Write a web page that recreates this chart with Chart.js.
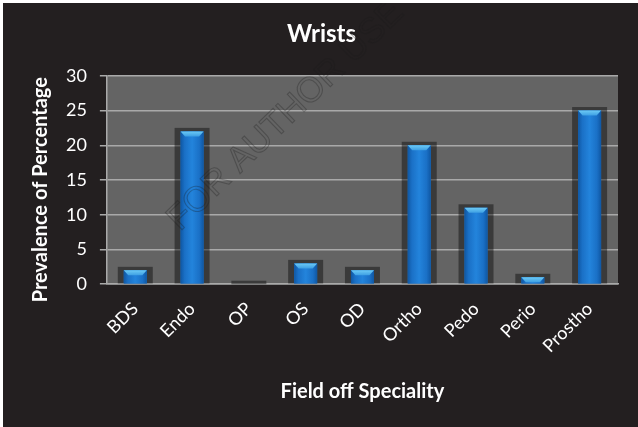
<!DOCTYPE html>
<html>
<head>
<meta charset="utf-8">
<script src="https://cdn.jsdelivr.net/npm/chart.js@4/dist/chart.umd.min.js"></script>
<style>
  html, body { margin: 0; padding: 0; background: #ffffff; }
  #wrap { position: absolute; left: 3px; top: 3px; width: 635px; height: 424px; }
</style>
</head>
<body>
<div id="wrap"><canvas id="c"></canvas></div>
<script>
// Field of speciality and prevalence (%) of wrist complaints
const categories = ['BDS', 'Endo', 'OP', 'OS', 'OD', 'Ortho', 'Pedo', 'Perio', 'Prostho'];
const prevalence = [2, 22, 0, 3, 2, 20, 11, 1, 25];
const yTicks = [0, 5, 10, 15, 20, 25, 30];

const BG = '#231f20';
const PLOT_BG = '#646464';
const GRID = '#a9a9a9';
const FONT = 'Lato, "Open Sans", sans-serif';

// Dark frame behind the chart and grey plot area
const backdrop = {
  id: 'backdrop',
  beforeDraw(chart) {
    const { ctx, chartArea: a } = chart;
    ctx.save();
    ctx.fillStyle = BG;
    ctx.fillRect(0, 0, chart.width, chart.height);
    ctx.fillStyle = PLOT_BG;
    ctx.fillRect(a.left, a.top, a.right - a.left, a.bottom - a.top);
    ctx.restore();
  }
};

// Soft dark box around each bar, plus glossy fill and bevelled top
const barStyle = {
  id: 'barStyle',
  beforeDatasetsDraw(chart) {
    const { ctx } = chart;
    const meta = chart.getDatasetMeta(0);
    ctx.save();
    ctx.fillStyle = 'rgba(0,0,0,0.42)';
    meta.data.forEach(el => {
      const { x, y, width, base } = el.getProps(['x', 'y', 'width', 'base'], true);
      ctx.fillRect(x - width / 2 - 6, y - 3.5, width + 12, base - y + 3.5);
    });
    ctx.restore();
  },
  afterDatasetsDraw(chart) {
    const { ctx } = chart;
    const meta = chart.getDatasetMeta(0);
    ctx.save();
    meta.data.forEach(el => {
      const { x, y, width, base } = el.getProps(['x', 'y', 'width', 'base'], true);
      const h = base - y;
      if (h < 0.5) return;
      const l = x - width / 2, r = x + width / 2;
      const g = ctx.createLinearGradient(l, 0, r, 0);
      g.addColorStop(0, '#0f57a3');
      g.addColorStop(0.18, '#1a70c6');
      g.addColorStop(0.5, '#2384dc');
      g.addColorStop(0.82, '#1a70c6');
      g.addColorStop(1, '#0f57a3');
      ctx.fillStyle = g;
      ctx.fillRect(l, y, width, h);
      const bh = Math.min(5, h);
      const bevel = ctx.createLinearGradient(0, y, 0, y + bh);
      bevel.addColorStop(0, '#6ccaf5');
      bevel.addColorStop(1, '#3d9fe3');
      ctx.fillStyle = bevel;
      ctx.beginPath();
      ctx.moveTo(l, y);
      ctx.lineTo(r, y);
      ctx.lineTo(r - bh * 0.9, y + bh);
      ctx.lineTo(l + bh * 0.9, y + bh);
      ctx.closePath();
      ctx.fill();
    });
    ctx.restore();
  }
};

// Faint diagonal watermark
const watermark = {
  id: 'watermark',
  afterDraw(chart) {
    const { ctx, chartArea: a } = chart;
    ctx.save();
    ctx.translate(a.left + 73, a.top + 156);
    ctx.rotate(-44 * Math.PI / 180);
    ctx.font = '35px "Liberation Sans", Arial, sans-serif';
    ctx.strokeStyle = 'rgba(25,25,25,0.3)';
    ctx.lineWidth = 1.1;
    ctx.strokeText('FOR AUTHOR USE ONLY', 0, 0);
    ctx.restore();
  }
};

new Chart(document.getElementById('c'), {
  type: 'bar',
  data: {
    labels: categories,
    datasets: [{
      label: 'Wrists',
      data: prevalence,
      backgroundColor: '#1f7bd2',
      borderWidth: 0,
      barPercentage: 0.405,
      categoryPercentage: 1
    }]
  },
  options: {
    responsive: true,
    maintainAspectRatio: false,
    animation: false,
    layout: { padding: { left: 22, right: 20, top: 0, bottom: 20 } },
    plugins: {
      legend: { display: false },
      tooltip: { enabled: false },
      title: {
        display: true,
        text: 'Wrists',
        color: '#ffffff',
        font: { family: FONT, size: 24, weight: 'bold' },
        padding: { top: 17, bottom: 27 }
      }
    },
    scales: {
      x: {
        grid: { display: true, drawOnChartArea: false, drawTicks: false, color: 'rgba(0,0,0,0)' },
        border: { display: true, color: GRID, width: 1.5 },
        ticks: {
          color: '#ffffff',
          font: { family: FONT, size: 18 },
          minRotation: 45,
          maxRotation: 45,
          padding: 14
        },
        title: {
          display: true,
          text: 'Field off Speciality',
          color: '#ffffff',
          font: { family: FONT, size: 20, weight: 'bold' },
          padding: { top: 9, bottom: 3 }
        }
      },
      y: {
        min: 0,
        max: 30,
        afterBuildTicks(scale) { scale.ticks = yTicks.map(v => ({ value: v })); },
        grid: { color: GRID, lineWidth: 1.5, tickLength: 7, drawTicks: true },
        border: { display: true, color: GRID, width: 1.5 },
        ticks: {
          color: '#ffffff',
          font: { family: FONT, size: 18 },
          padding: 13
        },
        title: {
          display: true,
          // trailing spaces nudge the rotated title a little below centre
          text: 'Prevalence of Percentage    ',
          color: '#ffffff',
          font: { family: FONT, size: 20, weight: 'bold' },
          padding: { top: 4, bottom: 0 }
        }
      }
    }
  },
  plugins: [backdrop, barStyle, watermark]
});
</script>
</body>
</html>
